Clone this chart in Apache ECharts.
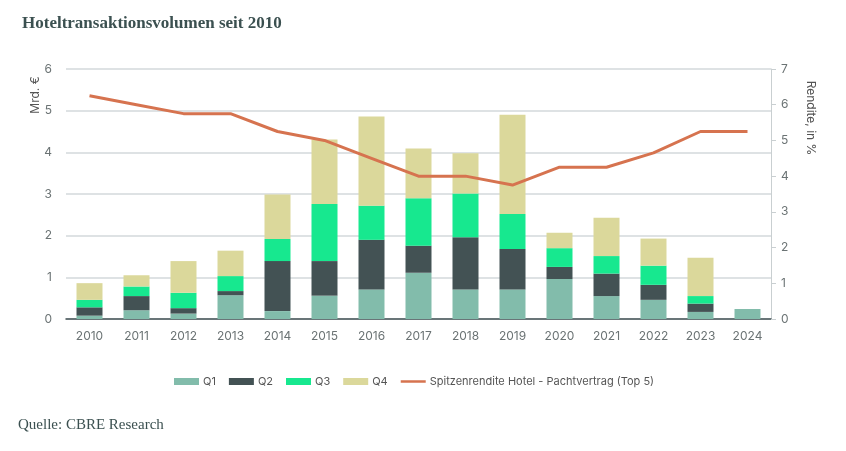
<!DOCTYPE html>
<html>
<head>
<meta charset="utf-8">
<script src="https://cdn.jsdelivr.net/npm/echarts@6/dist/echarts.min.js"></script>
<style>
  html, body { margin: 0; padding: 0; background: #fff; }
  #main { width: 846px; height: 451px; }
</style>
</head>
<body>
<div id="main"></div>
<script>
// Jahre
var years = ['2010', '2011', '2012', '2013', '2014', '2015', '2016', '2017', '2018', '2019', '2020', '2021', '2022', '2023', '2024'];

// Transaktionsvolumen je Quartal, Mrd. €
var q1 = [0.08, 0.21, 0.13, 0.57, 0.19, 0.56, 0.71, 1.11, 0.71, 0.71, 0.96, 0.55, 0.46, 0.17, 0.24];
var q2 = [0.20, 0.34, 0.13, 0.10, 1.20, 0.83, 1.19, 0.65, 1.25, 0.97, 0.29, 0.54, 0.36, 0.20, 0];
var q3 = [0.18, 0.23, 0.37, 0.36, 0.53, 1.37, 0.82, 1.14, 1.05, 0.84, 0.45, 0.42, 0.46, 0.18, 0];
var q4 = [0.40, 0.27, 0.76, 0.61, 1.07, 1.55, 2.14, 1.19, 0.97, 2.38, 0.37, 0.92, 0.65, 0.92, 0];

// Spitzenrendite in %
var rendite = [6.25, 6.0, 5.75, 5.75, 5.25, 5.0, 4.5, 4.0, 4.0, 3.75, 4.25, 4.25, 4.65, 5.25, 5.25];

var leftTicks = [0, 1, 2, 3, 4, 5, 6];
var rightTicks = [0, 1, 2, 3, 4, 5, 6, 7];

var axisGrey = '#6b7374';
var sansFont = 'Inter, "Noto Sans", sans-serif';

var myChart = echarts.init(document.getElementById('main'));

function barSeries(name, data, color) {
    return {
        name: name,
        type: 'bar',
        stack: 'vol',
        barWidth: 26,
        data: data,
        itemStyle: { color: color },
        emphasis: { disabled: true }
    };
}

var option = {
    animation: false,
    backgroundColor: '#fff',
    title: {
        text: 'Hoteltransaktionsvolumen seit 2010',
        left: 17,
        top: 10,
        textStyle: {
            fontFamily: '"Liberation Serif", "DejaVu Serif", serif',
            fontWeight: 'bold',
            fontSize: 17,
            color: '#3b5050'
        }
    },
    grid: { left: 66, right: 75, top: 69, bottom: 132 },
    legend: {
        top: 371,
        left: 169,
        itemWidth: 25,
        itemHeight: 7,
        itemGap: 13,
        textStyle: { fontFamily: sansFont, fontSize: 11, color: '#555', padding: [0, 0, 0, -1] },
        data: [
            { name: 'Q1', icon: 'rect' },
            { name: 'Q2', icon: 'rect' },
            { name: 'Q3', icon: 'rect' },
            { name: 'Q4', icon: 'rect' },
            { name: 'Spitzenrendite Hotel - Pachtvertrag (Top 5)', icon: 'path://M0,0h30v3h-30z' }
        ]
    },
    xAxis: {
        type: 'category',
        data: years,
        axisLine: { lineStyle: { color: '#435254', width: 1.5 } },
        axisTick: { show: false },
        axisLabel: { color: axisGrey, fontFamily: sansFont, fontSize: 12, margin: 11 }
    },
    yAxis: [
        {
            type: 'value',
            min: leftTicks[0],
            max: leftTicks[leftTicks.length - 1],
            interval: 1,
            axisLine: { show: false },
            axisTick: { show: false },
            axisLabel: { color: axisGrey, fontFamily: sansFont, fontSize: 12, margin: 14 },
            splitLine: { lineStyle: { color: '#d3d9db', width: 1.5 } }
        },
        {
            type: 'value',
            min: rightTicks[0],
            max: rightTicks[rightTicks.length - 1],
            interval: 1,
            position: 'right',
            axisLine: { show: true, lineStyle: { color: '#c9cfd1', width: 1 } },
            axisTick: { show: true, length: 5, lineStyle: { color: '#c9cfd1' } },
            axisLabel: { color: axisGrey, fontFamily: sansFont, fontSize: 12, margin: 10 },
            splitLine: { show: false }
        }
    ],
    series: [
        barSeries('Q1', q1, '#82bcab'),
        barSeries('Q2', q2, '#435254'),
        barSeries('Q3', q3, '#17e88f'),
        barSeries('Q4', q4, '#dbd89b'),
        {
            name: 'Spitzenrendite Hotel - Pachtvertrag (Top 5)',
            type: 'line',
            yAxisIndex: 1,
            data: rendite,
            symbol: 'none',
            lineStyle: { color: '#d6734f', width: 3 },
            itemStyle: { color: '#d6734f' },
            z: 5
        }
    ],
    graphic: [
        {
            type: 'text',
            x: 35,
            y: 95,
            rotation: Math.PI / 2,
            style: {
                text: 'Mrd. €',
                fill: '#555',
                font: '12px ' + sansFont,
                textAlign: 'center',
                textVerticalAlign: 'middle'
            }
        },
        {
            type: 'text',
            x: 811,
            y: 118,
            rotation: -Math.PI / 2,
            style: {
                text: 'Rendite, in %',
                fill: '#555',
                font: '12px ' + sansFont,
                textAlign: 'center',
                textVerticalAlign: 'middle'
            }
        },
        {
            type: 'text',
            left: 18,
            top: 418,
            style: {
                text: 'Quelle: CBRE Research',
                fill: '#3b5050',
                font: '15px "Liberation Serif", "DejaVu Serif", serif'
            }
        }
    ]
};

myChart.setOption(option);
</script>
</body>
</html>
